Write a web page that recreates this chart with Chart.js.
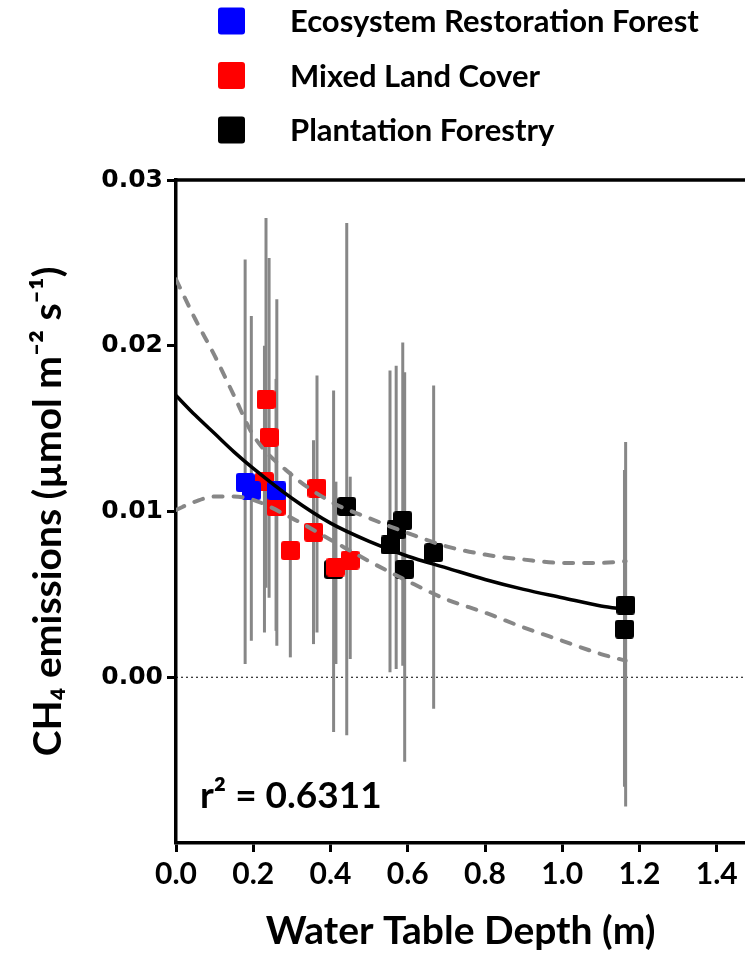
<!DOCTYPE html>
<html lang="en">
<head>
<meta charset="UTF-8">
<title>CH4 emissions x Water Table Depth</title>
<style>
  html, body { margin: 0; padding: 0; background: #fff; overflow: hidden; }
  #caixa { width: 745px; height: 955px; position: relative; }
  #grafico { display: block; }
</style>
</head>
<body>
<div id="caixa"><canvas id="grafico"></canvas></div>
<script src="https://cdn.jsdelivr.net/npm/chart.js"></script>
<script>
// Ecosystem Restoration Forest
const ersX    = [0.179, 0.195, 0.261];
const ersY    = [0.01175, 0.01125, 0.01125];
const ersHigh = [0.0252, 0.0218, 0.0228];
const ersLow  = [0.0008, 0.0022, 0.0019];

// Mixed Land Cover
const mlcX    = [0.233, 0.241, 0.229, 0.259, 0.296, 0.365, 0.356, 0.414, 0.451];
const mlcY    = [0.01675, 0.01447, 0.0118, 0.0103, 0.00764, 0.0114, 0.00875, 0.00665, 0.00707];
const mlcHigh = [0.0277, 0.0253, 0.0200, 0.0180, 0.0124, 0.0182, 0.0143, 0.0118, 0.0121];
const mlcLow  = [0.0054, 0.0048, 0.0027, 0.0028, 0.0012, 0.0027, 0.0020, 0.0008, 0.0011];

// Plantation Forestry
const pfX    = [0.408, 0.442, 0.554, 0.570, 0.587, 0.592, 0.667, 1.164, 1.161];
const pfY    = [0.0065, 0.0103, 0.00798, 0.00889, 0.00945, 0.00651, 0.00752, 0.00435, 0.0029];
const pfHigh = [0.0173, 0.0274, 0.0185, 0.0188, 0.0202, 0.0184, 0.0176, 0.0142, 0.0125];
const pfLow  = [-0.0033, -0.0035, 0.0003, 0.0005, 0.0007, -0.0051, -0.0019, -0.0078, -0.0066];

// curva ajustada e intervalo de confianca
const curvaX  = [0, 0.05, 0.1, 0.15, 0.2, 0.3, 0.4, 0.5, 0.6, 0.7, 0.8, 0.9, 1.0, 1.1, 1.164];
const curvaY  = [0.0170, 0.0158, 0.0147, 0.0136, 0.0126, 0.0108, 0.0093, 0.0082, 0.0073, 0.0066, 0.0059, 0.0053, 0.0048, 0.0043, 0.0041];
const icAlto  = [0.0240, 0.0216, 0.0194, 0.0170, 0.0146, 0.0122, 0.0106, 0.0096, 0.0087, 0.0079, 0.0074, 0.0071, 0.0069, 0.0069, 0.0070];
const icBaixo = [0.0101, 0.0106, 0.0109, 0.0109, 0.0107, 0.0096, 0.0083, 0.0070, 0.0058, 0.0047, 0.0039, 0.0030, 0.0022, 0.0014, 0.0010];

const xTicks = [0, 0.2, 0.4, 0.6, 0.8, 1.0, 1.2, 1.4];
const yTicks = [0, 0.01, 0.02, 0.03];
const textoR2 = 'r² = 0.6311';

const fonteTexto = 'Lato, "Open Sans", sans-serif';
const cinza = '#878787';

function quadrado(cor, lado) {
    const c = document.createElement('canvas');
    c.width = lado; c.height = lado;
    const g = c.getContext('2d');
    g.fillStyle = cor;
    g.beginPath();
    g.roundRect(0, 0, lado, lado, 3);
    g.fill();
    return c;
}

function pontos(xs, ys) {
    return xs.map(function (v, i) { return { x: v, y: ys[i] }; });
}

const grupos = [
    { nome: 'Ecosystem Restoration Forest', cor: '#0000ff', x: ersX, y: ersY, alto: ersHigh, baixo: ersLow },
    { nome: 'Mixed Land Cover', cor: '#ff0000', x: mlcX, y: mlcY, alto: mlcHigh, baixo: mlcLow },
    { nome: 'Plantation Forestry', cor: '#000000', x: pfX, y: pfY, alto: pfHigh, baixo: pfLow }
];

const barrasErro = {
    id: 'barrasErro',
    beforeDatasetsDraw(chart) {
        const ctx = chart.ctx, x = chart.scales.x, y = chart.scales.y;
        ctx.save();
        // linha pontilhada no zero
        ctx.strokeStyle = '#000';
        ctx.lineWidth = 1.2;
        ctx.setLineDash([2, 3]);
        ctx.beginPath();
        ctx.moveTo(chart.chartArea.left, y.getPixelForValue(0));
        ctx.lineTo(chart.chartArea.right, y.getPixelForValue(0));
        ctx.stroke();
        ctx.setLineDash([]);
        ctx.strokeStyle = cinza;
        ctx.lineWidth = 3;
        grupos.forEach(function (g) {
            g.x.forEach(function (v, i) {
                const px = x.getPixelForValue(v);
                ctx.beginPath();
                ctx.moveTo(px, y.getPixelForValue(g.baixo[i]));
                ctx.lineTo(px, y.getPixelForValue(g.alto[i]));
                ctx.stroke();
            });
        });
        ctx.restore();
    },
    afterDraw(chart) {
        const ctx = chart.ctx, area = chart.chartArea;
        ctx.save();
        // borda superior
        ctx.strokeStyle = '#000';
        ctx.lineWidth = 3.5;
        ctx.beginPath();
        ctx.moveTo(area.left - 1.75, area.top);
        ctx.lineTo(area.right, area.top);
        ctx.stroke();

        // r2
        ctx.fillStyle = '#000';
        ctx.font = 'bold 37px ' + fonteTexto;
        ctx.textBaseline = 'alphabetic';
        ctx.textAlign = 'left';
        ctx.fillText(textoR2, area.left + 24, area.bottom - 35);

        // legenda
        ctx.font = 'bold 31px ' + fonteTexto;
        ctx.textBaseline = 'middle';
        grupos.forEach(function (g, i) {
            const cy = 21 + i * 54.5;
            ctx.fillStyle = g.cor;
            ctx.beginPath();
            ctx.roundRect(218, cy - 13.5, 27, 27, 3);
            ctx.fill();
            ctx.fillStyle = '#000';
            ctx.fillText(g.nome, 290, cy + 1);
        });
        ctx.restore();
    }
};

const conjuntos = [
    { type: 'line', label: 'fit', data: pontos(curvaX, curvaY), borderColor: '#000', borderWidth: 3.5,
      pointRadius: 0, cubicInterpolationMode: 'monotone', order: 0 },
    { type: 'line', label: 'upper', data: pontos(curvaX, icAlto), borderColor: cinza, borderWidth: 4,
      borderDash: [9, 11], borderCapStyle: 'round', pointRadius: 0, cubicInterpolationMode: 'monotone', order: 0 },
    { type: 'line', label: 'lower', data: pontos(curvaX, icBaixo), borderColor: cinza, borderWidth: 4,
      borderDash: [9, 11], borderCapStyle: 'round', pointRadius: 0, cubicInterpolationMode: 'monotone', order: 0 }
];
grupos.forEach(function (g, i) {
    conjuntos.push({
        type: 'scatter', label: g.nome, data: pontos(g.x, g.y),
        pointStyle: quadrado(g.cor, 19), pointRadius: 10, showLine: false, order: i + 1
    });
});

new Chart(document.getElementById('grafico'), {
    data: { datasets: conjuntos },
    options: {
        responsive: true,
        maintainAspectRatio: false,
        animation: false,
        layout: { autoPadding: false, padding: { top: 180, right: 0, left: 0, bottom: 0 } },
        plugins: { legend: { display: false }, tooltip: { enabled: false } },
        scales: {
            x: {
                type: 'linear', min: 0, max: 1.473,
                afterBuildTicks: function (s) { s.ticks = xTicks.map(function (v) { return { value: v }; }); },
                afterFit: function (s) { s.height = 112; s.paddingRight = 0; s.paddingLeft = 0; },
                ticks: {
                    callback: function (v) { return v.toFixed(1); },
                    font: { family: fonteTexto, weight: 'bold', size: 30 },
                    color: '#000', padding: 4, maxRotation: 0, autoSkip: false
                },
                grid: { drawOnChartArea: false, drawTicks: true, tickLength: 9, tickColor: '#000', tickWidth: 3 },
                border: { display: true, color: '#000', width: 3.5 },
                title: { display: true, text: 'Water Table Depth (m)', color: '#000',
                         font: { family: fonteTexto, weight: 'bold', size: 39 }, padding: { top: 0, bottom: 0 } }
            },
            y: {
                type: 'linear', min: -0.01, max: 0.03,
                afterBuildTicks: function (s) { s.ticks = yTicks.map(function (v) { return { value: v }; }); },
                afterFit: function (s) { s.width = 176; },
                ticks: {
                    callback: function (v) { return v.toFixed(2); },
                    font: { family: '"DejaVu Sans"', weight: 'bold', size: 25 },
                    color: '#000', padding: 4
                },
                grid: { drawOnChartArea: false, drawTicks: true, tickLength: 9, tickColor: '#000', tickWidth: 3 },
                border: { display: true, color: '#000', width: 3.5 },
                title: { display: true, text: 'CH₄ emissions (µmol m⁻² s⁻¹)', color: '#000',
                         font: { family: fonteTexto, weight: 'bold', size: 39 }, padding: { top: 25, bottom: 8 } }
            }
        }
    },
    plugins: [barrasErro]
});
</script>
</body>
</html>
